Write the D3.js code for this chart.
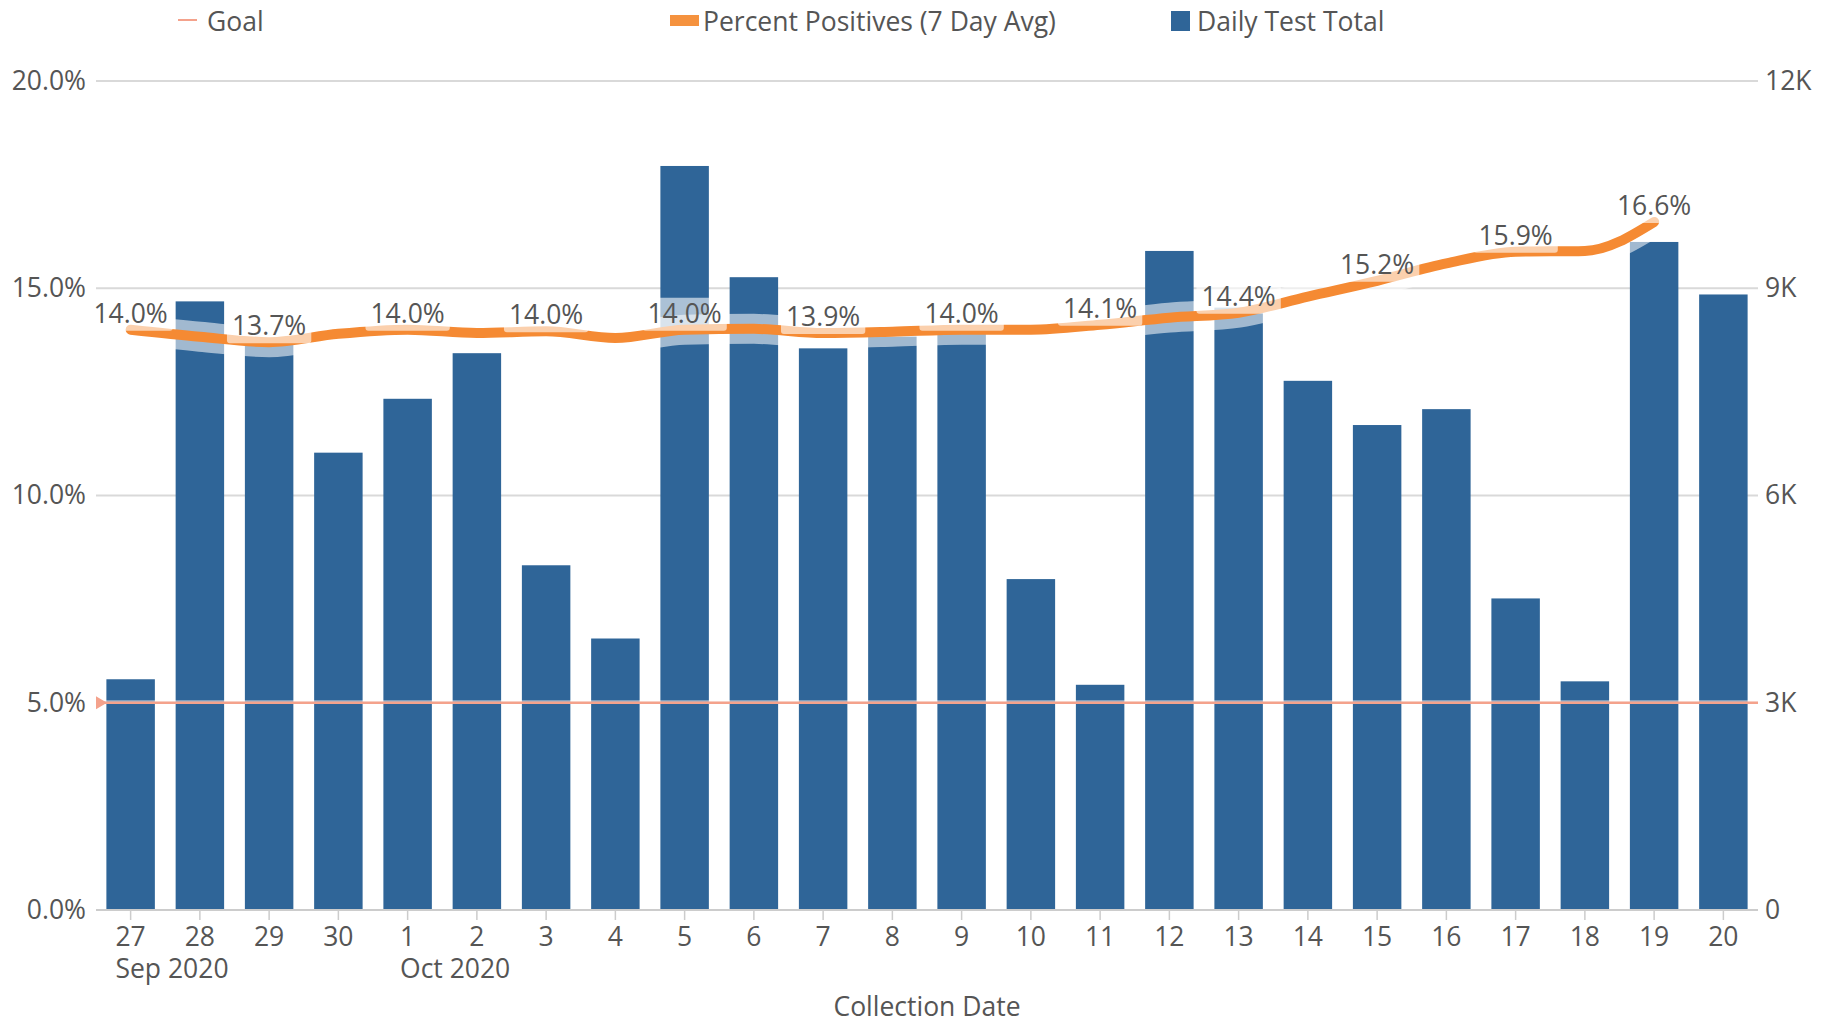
<!DOCTYPE html>
<html>
<head>
<meta charset="utf-8">
<script src="https://cdn.jsdelivr.net/npm/d3@7"></script>
<style>
  body { margin: 0; background: #fff; }
  svg text { font-family: 'Open Sans', sans-serif; fill: #555; }
</style>
</head>
<body>
<script>
// chart values
const days = ['2020-09-27', '2020-09-28', '2020-09-29', '2020-09-30', '2020-10-01', '2020-10-02',
  '2020-10-03', '2020-10-04', '2020-10-05', '2020-10-06', '2020-10-07', '2020-10-08',
  '2020-10-09', '2020-10-10', '2020-10-11', '2020-10-12', '2020-10-13', '2020-10-14',
  '2020-10-15', '2020-10-16', '2020-10-17', '2020-10-18', '2020-10-19', '2020-10-20']
const tests = [3340, 8810, 8240, 6620, 7400, 8060, 4990, 3930, 10770, 9160, 8130, 8300,
  8420, 4790, 3260, 9540, 8720, 7660, 7020, 7250, 4510, 3310, 9670, 8910]
const pctPos = [14.0, 13.83, 13.7, 13.9, 14.0, 13.92, 13.96, 13.8, 14.0, 14.02, 13.92, 13.95,
  14.0, 14.0, 14.12, 14.29, 14.41, 14.8, 15.18, 15.6, 15.88, 15.9, 16.6, null]
const goal = 5
const leftTicks = [0, 5, 10, 15, 20]
const rightTicks = [0, 3000, 6000, 9000, 12000]
const months = [{day: '2020-09-27', label: 'Sep 2020'}, {day: '2020-10-01', label: 'Oct 2020'}]

const width = 1835
const height = 1025
const plotLeft = 96
const plotRight = 1758
const plotTop = 81
const plotBottom = 910

const svg = d3.select('body').append('svg')
  .attr('width', width)
  .attr('height', height)

const x = d3.scaleBand().domain(days).range([plotLeft, plotRight])
  .paddingInner(0.3).paddingOuter(0.15)
const yL = d3.scaleLinear().domain([0, 20]).range([plotBottom, plotTop])
const yR = d3.scaleLinear().domain([0, 12000]).range([plotBottom, plotTop])
const cx = d => x(d) + x.bandwidth() / 2

// gridlines
svg.append('g').selectAll('line')
  .data(leftTicks.filter(d => d > 0))
  .enter().append('line')
  .attr('x1', plotLeft).attr('x2', plotRight)
  .attr('y1', d => yL(d)).attr('y2', d => yL(d))
  .attr('stroke', '#d9d9d9').attr('stroke-width', 2)

// bars
svg.append('g').selectAll('rect')
  .data(days).enter().append('rect')
  .attr('x', d => x(d))
  .attr('width', x.bandwidth())
  .attr('y', (d, i) => yR(tests[i]))
  .attr('height', (d, i) => plotBottom - yR(tests[i]))
  .attr('fill', '#2f6598')

// axes
const fs = 26.5
const leftAxis = svg.append('g')
  .attr('transform', 'translate(' + plotLeft + ',0)')
  .call(d3.axisLeft(yL).tickValues(leftTicks).tickSize(0).tickPadding(10)
    .tickFormat(d => d.toFixed(1) + '%'))
leftAxis.select('.domain').remove()

const rightAxis = svg.append('g')
  .attr('transform', 'translate(' + plotRight + ',0)')
  .call(d3.axisRight(yR).tickValues(rightTicks).tickSize(0).tickPadding(7)
    .tickFormat(d => d === 0 ? '0' : d / 1000 + 'K'))
rightAxis.select('.domain').remove()

const xAxis = svg.append('g')
  .attr('transform', 'translate(0,' + plotBottom + ')')
  .call(d3.axisBottom(x).tickSize(10).tickPadding(7).tickFormat(d => +d.slice(8)))
xAxis.select('.domain').attr('stroke', '#cccccc').attr('stroke-width', 2)
  .attr('d', 'M' + plotLeft + ',0H' + plotRight)
xAxis.selectAll('.tick line').attr('stroke', '#cccccc').attr('stroke-width', 1.5)

svg.selectAll('.tick text')
  .style('font-size', fs + 'px')
  .attr('fill', '#555')

// month labels under the first day of each month
months.forEach(m => {
  const w = (+m.day.slice(8)).toString().length * 0.572 * fs
  svg.append('text')
    .attr('x', cx(m.day) - w / 2)
    .attr('y', 978)
    .style('font-size', fs + 'px')
    .text(m.label)
})

svg.append('text')
  .attr('x', (plotLeft + plotRight) / 2)
  .attr('y', 1016)
  .attr('text-anchor', 'middle')
  .style('font-size', fs + 'px')
  .text('Collection Date')

// goal line over the bars
svg.append('line')
  .attr('x1', plotLeft).attr('x2', plotRight)
  .attr('y1', yL(goal) - 1.5).attr('y2', yL(goal) - 1.5)
  .attr('stroke', '#ffffff').attr('stroke-opacity', 0.5).attr('stroke-width', 2)
svg.append('line')
  .attr('x1', plotLeft).attr('x2', plotRight)
  .attr('y1', yL(goal)).attr('y2', yL(goal))
  .attr('stroke', '#f4a28c').attr('stroke-width', 2.5)
svg.append('path')
  .attr('d', 'M' + plotLeft + ',' + (yL(goal) - 6.5) + 'l11,6.5l-11,6.5z')
  .attr('fill', '#f4a28c')

// percent positives line
const pts = days.map((d, i) => ({day: d, v: pctPos[i]}))
const line = d3.line()
  .defined(d => d.v != null)
  .x(d => cx(d.day))
  .y(d => yL(d.v))
  .curve(d3.curveMonotoneX)

svg.append('path')
  .attr('d', line(pts))
  .attr('fill', 'none')
  .attr('stroke', '#ffffff')
  .attr('stroke-opacity', 0.55)
  .attr('stroke-width', 30)
  .attr('stroke-linecap', 'round')

svg.append('path')
  .attr('d', line(pts))
  .attr('fill', 'none')
  .attr('stroke', '#f58a33')
  .attr('stroke-width', 10)
  .attr('stroke-linecap', 'round')

// value labels on every other day
const labels = svg.append('g')
pts.forEach((p, i) => {
  if (i % 2 !== 0 || p.v == null) return
  const px = cx(p.day)
  const py = yL(p.v)
  const g = labels.append('g')
  const t = g.append('text')
    .attr('x', px)
    .attr('y', py - 7)
    .attr('text-anchor', 'middle')
    .style('font-size', fs + 'px')
    .text(d3.format('.1f')(p.v) + '%')
  const b = t.node().getBBox()
  g.insert('rect', 'text')
    .attr('x', b.x - 5)
    .attr('y', b.y + 3)
    .attr('width', b.width + 10)
    .attr('height', py + 1 - (b.y + 3))
    .attr('rx', 3)
    .attr('fill', '#ffffff')
    .attr('fill-opacity', 0.6)
})

// legend
const legend = svg.append('g')
legend.append('line')
  .attr('x1', 178).attr('x2', 197).attr('y1', 20).attr('y2', 20)
  .attr('stroke', '#f4a28c').attr('stroke-width', 2)
legend.append('text').attr('x', 207).attr('y', 31).style('font-size', fs + 'px').text('Goal')
legend.append('rect')
  .attr('x', 670).attr('y', 15).attr('width', 29).attr('height', 11)
  .attr('fill', '#f5923e')
legend.append('text').attr('x', 703).attr('y', 31).style('font-size', fs + 'px')
  .text('Percent Positives (7 Day Avg)')
legend.append('rect')
  .attr('x', 1171).attr('y', 11).attr('width', 19).attr('height', 20)
  .attr('fill', '#2f6598')
legend.append('text').attr('x', 1197).attr('y', 31).style('font-size', fs + 'px')
  .text('Daily Test Total')
</script>
</body>
</html>
